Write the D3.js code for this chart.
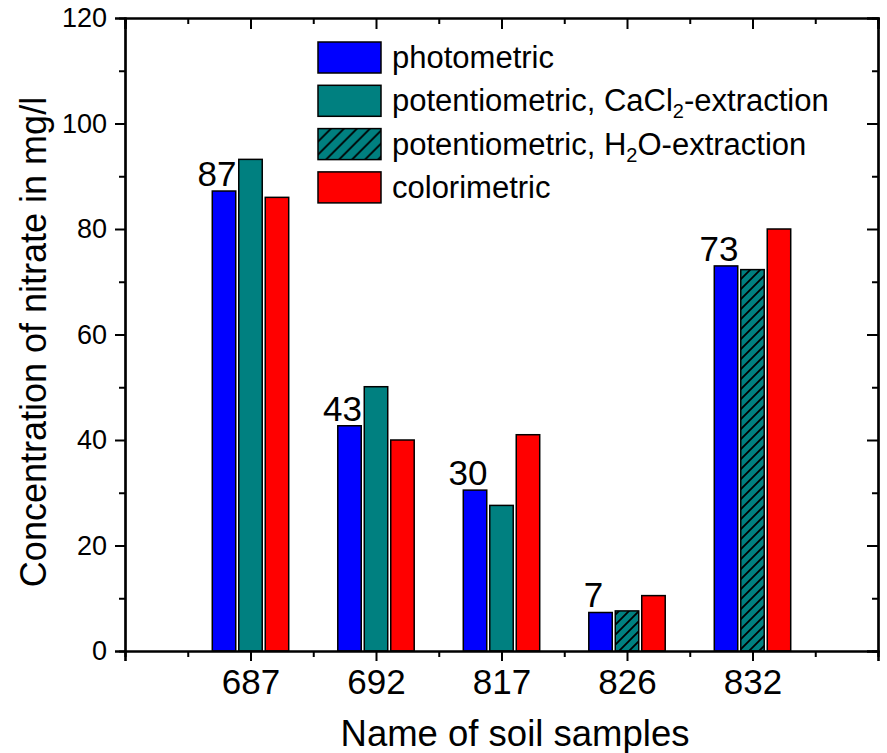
<!DOCTYPE html>
<html>
<head>
<meta charset="utf-8">
<script src="https://cdn.jsdelivr.net/npm/d3@7"></script>
<style>
  body { margin: 0; background: #fff; }
  svg text { font-family: Arial, "Liberation Sans", sans-serif; fill: #000; }
</style>
</head>
<body>
<svg id="chart" width="887" height="753"></svg>
<script>
// soil samples on the x axis
var samples = ["687", "692", "817", "826", "832"];

// nitrate values per method (mg/l)
var photometric   = [87.2, 42.7, 30.5, 7.3, 73.0];
var potentioCaCl2 = [93.2, 50.1, 27.6, null, null];
var potentioH2O   = [null, null, null, 7.6, 72.3];
var colorimetric  = [86.0, 40.0, 41.0, 10.5, 80.0];

// rounded value printed above the photometric bar
var barLabels = ["87", "43", "30", "7", "73"];

var yTicks = [0, 20, 40, 60, 80, 100, 120];

var svg = d3.select("#chart");
var plotLeft = 125, plotRight = 878, plotTop = 18, plotBottom = 651;

var x = d3.scaleLinear().domain([0, 6]).range([plotLeft, plotRight]);
var y = d3.scaleLinear().domain([0, 120]).range([plotBottom, plotTop]);

// hatch pattern for the H2O extraction bars
var defs = svg.append("defs");
var pat = defs.append("pattern")
  .attr("id", "hatch")
  .attr("patternUnits", "userSpaceOnUse")
  .attr("width", 10).attr("height", 10);
pat.append("rect").attr("width", 10).attr("height", 10).attr("fill", "#008080");
pat.append("path")
  .attr("d", "M-2,12 L12,-2 M-2,2 L2,-2 M8,12 L12,8")
  .attr("stroke", "#000").attr("stroke-width", 1.8);

var legPat = defs.append("pattern")
  .attr("id", "hatchLeg")
  .attr("patternUnits", "userSpaceOnUse")
  .attr("width", 13).attr("height", 13);
legPat.append("rect").attr("width", 13).attr("height", 13).attr("fill", "#008080");
legPat.append("path")
  .attr("d", "M-2,15 L15,-2 M-2,2 L2,-2 M11,15 L15,11")
  .attr("stroke", "#000").attr("stroke-width", 1.8);

var series = [
  { name: "photometric", values: photometric, fill: "#0000ff", slot: -1 },
  { name: "CaCl2", values: potentioCaCl2, fill: "#008080", slot: 0 },
  { name: "H2O", values: potentioH2O, fill: "url(#hatch)", slot: 0 },
  { name: "colorimetric", values: colorimetric, fill: "#ff0000", slot: 1 }
];

var stride = 0.211, barW = 0.187;

series.forEach(function (s) {
  var data = samples.map(function (d, i) { return { i: i, v: s.values[i] }; })
    .filter(function (d) { return d.v != null; });
  svg.append("g").selectAll("rect")
    .data(data)
    .enter().append("rect")
    .attr("x", function (d) { return x(d.i + 1 + s.slot * stride - barW / 2); })
    .attr("width", x(barW) - x(0))
    .attr("y", function (d) { return y(d.v); })
    .attr("height", function (d) { return y(0) - y(d.v); })
    .attr("fill", s.fill)
    .attr("stroke", "#000")
    .attr("stroke-width", 1.5);
});

// value labels over the photometric bars
svg.append("g").selectAll("text")
  .data(barLabels)
  .enter().append("text")
  .attr("x", function (d, i) { return x(i + 1 - stride) - 7; })
  .attr("y", function (d, i) { return y(photometric[i]) - 5; })
  .attr("text-anchor", "middle")
  .attr("font-size", 35)
  .text(function (d) { return d; });

// axes
var xMajor = d3.range(0, 7);
var xMinor = d3.range(0.5, 6, 1);
var yMinor = d3.range(10, 120, 20);

var bottomAxis = svg.append("g").attr("transform", "translate(0," + plotBottom + ")")
  .call(d3.axisBottom(x).tickValues(xMajor).tickSize(10).tickPadding(8)
    .tickFormat(function (d) { return (d >= 1 && d <= 5) ? samples[d - 1] : ""; }));
bottomAxis.selectAll("text").attr("font-size", 35);
svg.append("g").attr("transform", "translate(0," + plotBottom + ")")
  .call(d3.axisBottom(x).tickValues(xMinor).tickSize(6).tickFormat(""));

svg.append("g").attr("transform", "translate(0," + plotTop + ")")
  .call(d3.axisBottom(x).tickValues(xMajor).tickSize(11).tickFormat(""));
svg.append("g").attr("transform", "translate(0," + plotTop + ")")
  .call(d3.axisBottom(x).tickValues(xMinor).tickSize(6).tickFormat(""));

var leftAxis = svg.append("g").attr("transform", "translate(" + plotLeft + ",0)")
  .call(d3.axisLeft(y).tickValues(yTicks).tickSize(10).tickPadding(8));
leftAxis.selectAll("text").attr("font-size", 27);
svg.append("g").attr("transform", "translate(" + plotLeft + ",0)")
  .call(d3.axisLeft(y).tickValues(yMinor).tickSize(6).tickFormat(""));

svg.append("g").attr("transform", "translate(" + plotRight + ",0)")
  .call(d3.axisLeft(y).tickValues(yTicks).tickSize(11).tickFormat(""));
svg.append("g").attr("transform", "translate(" + plotRight + ",0)")
  .call(d3.axisLeft(y).tickValues(yMinor).tickSize(6).tickFormat(""));

svg.selectAll(".domain").attr("stroke", "#000").attr("stroke-width", 2.2);
svg.selectAll(".tick line").attr("stroke", "#000").attr("stroke-width", 2);
svg.selectAll(".tick text").attr("fill", "#000").attr("font-family", "Arial, 'Liberation Sans', sans-serif");

// axis titles
svg.append("text")
  .attr("x", 515).attr("y", 746)
  .attr("text-anchor", "middle")
  .attr("font-size", 36.5)
  .text("Name of soil samples");

svg.append("text")
  .attr("transform", "translate(46,342) rotate(-90)")
  .attr("text-anchor", "middle")
  .attr("font-size", 36)
  .text("Concentration of nitrate in mg/l");

// legend
var legend = svg.append("g").attr("transform", "translate(318,42)");
var legItems = [
  { fill: "#0000ff", parts: [["photometric", false]] },
  { fill: "#008080", parts: [["potentiometric, CaCl", false], ["2", true], ["-extraction", false]] },
  { fill: "url(#hatchLeg)", parts: [["potentiometric, H", false], ["2", true], ["O-extraction", false]] },
  { fill: "#ff0000", parts: [["colorimetric", false]] }
];
legItems.forEach(function (it, i) {
  var g = legend.append("g").attr("transform", "translate(0," + (i * 43.3) + ")");
  g.append("rect").attr("width", 63).attr("height", 31)
    .attr("fill", it.fill).attr("stroke", "#000").attr("stroke-width", 1.5);
  var t = g.append("text").attr("x", 74).attr("y", 26).attr("font-size", 31);
  it.parts.forEach(function (p) {
    var sp = t.append("tspan").text(p[0]);
    if (p[1]) sp.attr("font-size", 20).attr("dy", 7);
    else if (t.selectAll("tspan").size() > 1) sp.attr("dy", -7);
  });
});
</script>
</body>
</html>
